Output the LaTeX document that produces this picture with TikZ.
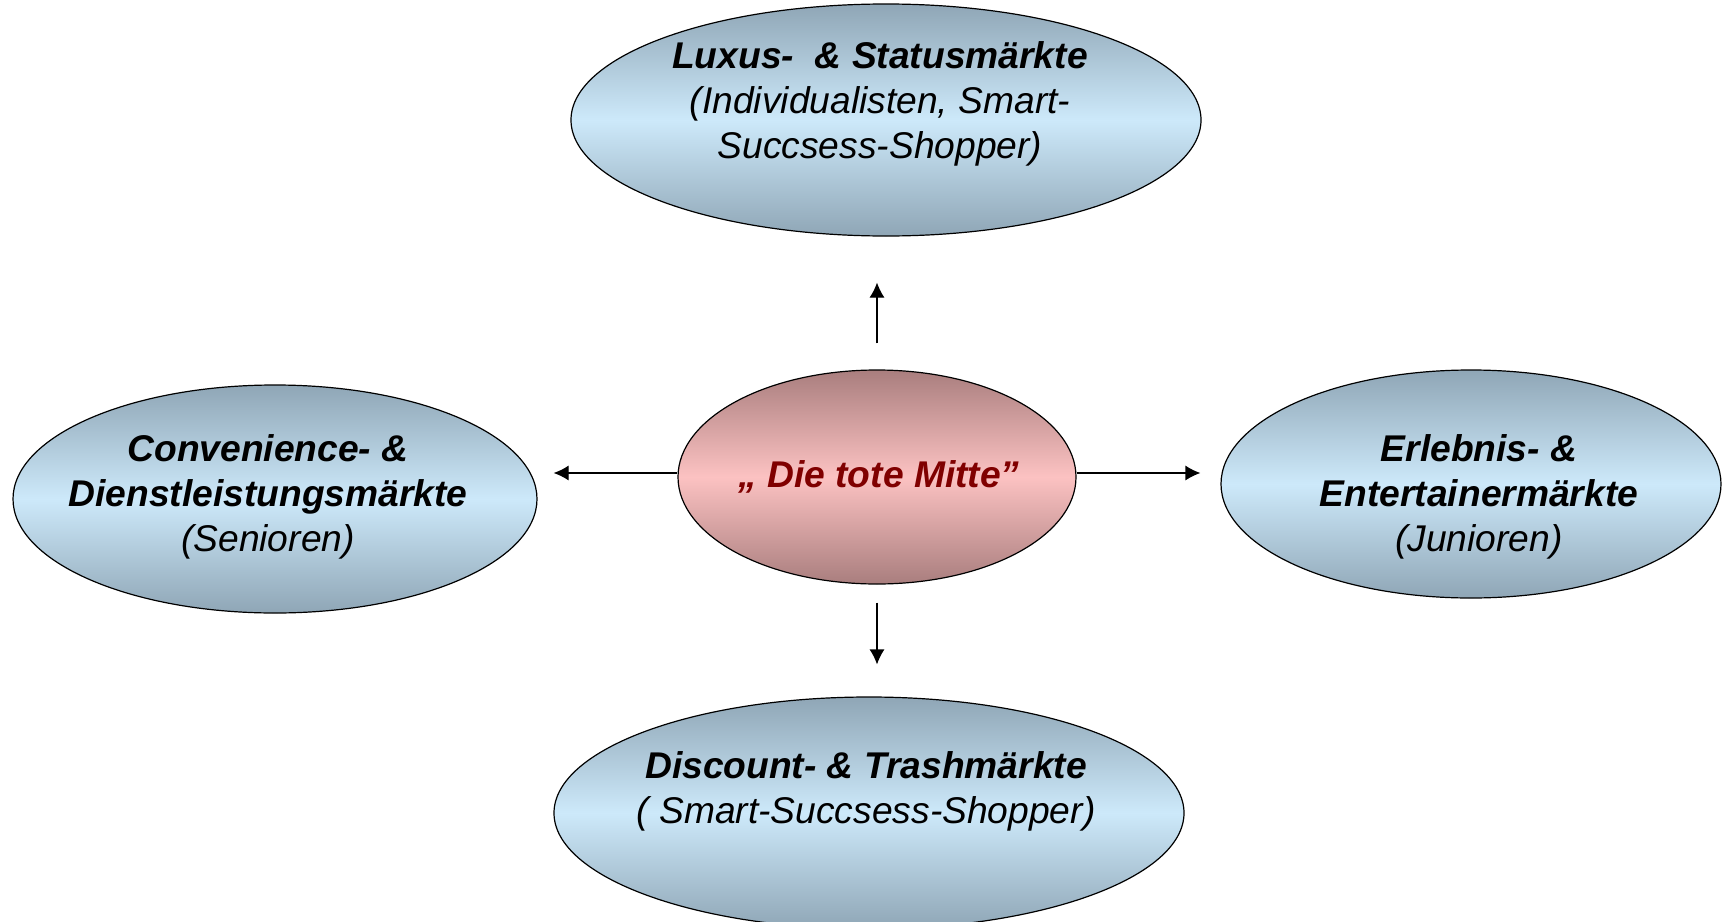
\documentclass[tikz,border=0pt]{standalone}
\usepackage{fontspec}
\setmainfont{Liberation Sans}
\usetikzlibrary{shapes.geometric, arrows.meta, positioning, calc}

\definecolor{randblau}{HTML}{8FA6B6}
\definecolor{hellblau}{HTML}{CDE9FA}
\definecolor{randrosa}{HTML}{A97E7E}
\definecolor{hellrosa}{HTML}{FCC2C2}
\definecolor{tiefrot}{HTML}{800000}

\tikzset{
  markt/.style={ellipse, draw=black, line width=0.6pt, inner sep=0pt,
    top color=randblau, bottom color=randblau, middle color=hellblau},
  mitte/.style={ellipse, draw=black, line width=0.6pt, inner sep=0pt,
    top color=randrosa, bottom color=randrosa, middle color=hellrosa},
  etikett/.style={align=center, font=\fontsize{18.6}{22.4}\selectfont\itshape},
  pfeil/.style={->, >={Latex[length=7.5pt,width=7.5pt]}, line width=0.6pt}
}

\begin{document}
\begin{tikzpicture}[x=0.5pt, y=-0.5pt]
\clip (0,0) rectangle (1729,921);
\useasboundingbox (0,0) rectangle (1729,921);

% --- Ellipsen ---
\node[mitte, minimum width=199pt, minimum height=107pt] (mid) at (877,477) {};
\node[markt, minimum width=315pt, minimum height=116pt] (lux) at (886,120) {};
\node[markt, minimum width=262pt, minimum height=114pt] (conv) at (275,499) {};
\node[markt, minimum width=250pt, minimum height=114pt] (erl) at (1471,484) {};
\node[markt, minimum width=315pt, minimum height=116pt] (disc) at (869,813) {};

% --- Texte ---
\node[etikett] (luxtext) at (880,104) {\textbf{Luxus-\ \ \& Statusmärkte}\\(Individualisten, Smart-\\Succsess-Shopper)};
\node[etikett] (convtext) at (268,497) {\textbf{Convenience- \&}\\\textbf{Dienstleistungsmärkte}\\(Senioren)};
\node[etikett] (erltext) at (1479,497) {\textbf{Erlebnis- \&}\\\textbf{Entertainermärkte}\\(Junioren)};
\node[etikett] (disctext) at (866,791) {\textbf{Discount- \& Trashmärkte}\\( Smart-Succsess-Shopper)};
\node[etikett, text=tiefrot] (midtext) at (879,477) {\textbf{„ Die tote Mitte”}};

% --- Pfeile ---
\draw[pfeil, shorten <=13pt, shorten >=23pt] (mid.north) -- (mid.north |- lux.south);
\draw[pfeil, shorten <=9pt, shorten >=16pt] (mid.south) -- (mid.south |- disc.north);
\draw[pfeil, shorten >=8pt] ([yshift=2pt]mid.west) -- ([yshift=2pt]mid.west -| conv.east);
\draw[pfeil, shorten >=10pt] ([yshift=2pt]mid.east) -- ([yshift=2pt]mid.east -| erl.west);
\end{tikzpicture}
\end{document}
